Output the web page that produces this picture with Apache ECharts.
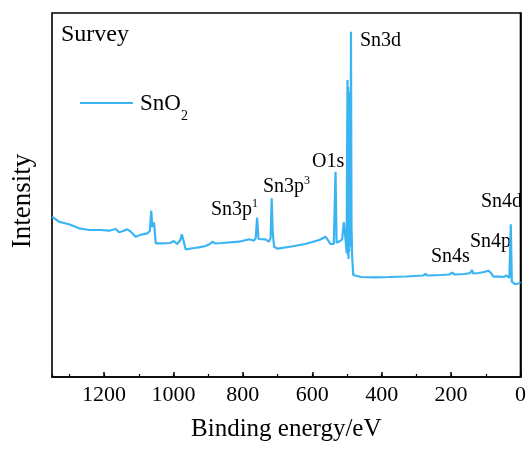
<!DOCTYPE html>
<html><head><meta charset="utf-8">
<script src="https://cdn.jsdelivr.net/npm/echarts@6/dist/echarts.min.js"></script>
<style>html,body{margin:0;padding:0;background:#fff}#c{width:529px;height:449px}</style>
</head><body><div id="c"></div>
<script>
// Binding energy (eV)
const energy = [1350,1330,1301,1272,1243,1210,1186,1166,1157,1145,1133,1123,1109,1090,1075,1068,1064,1061,1059,1056,1051,1032,1010,999,989,980,976,970,965,940,927,907,895,888,880,860,811,782,768,763,759,755,750,735,725,720,717,714,710,700,660,620,580,562,555,548,543,538,533,530,520,514,509,504,501,498.5,497.5,496.5,495.5,494.5,493.5,492.5,491.5,490.5,489.5,488.5,487,485,482,480,460,420,380,330,280,274,268,230,205,197,190,160,145,140,136,120,105,92,85,78,60,49,40,32,28,25,15,5,0];
// Intensity (a.u.)
const intensity = [160.3,155.3,152.7,148.7,147,147,146.3,148,144.7,146,147.7,145.3,140.3,142.7,143.7,146,166.3,150,148.7,154.7,133.7,133.7,134,136,133,137,142.7,135,127.7,129,129.7,131,133,135.3,133.5,134,135.3,137.7,136.3,139,159.3,138,136,137.7,135.3,139,178.7,145,130.3,128.3,130.5,133,137,140.3,137,133,132,133,205.3,134.3,136,137.7,155,137,124,297,122,290,118,285,125,280,130,275,140,345.3,150,120,102,100.3,100,99.7,100,100.5,101.5,103,101.5,102,102.5,104.3,102.5,103,104,107,103.5,104,105,106.3,104,100.3,100.5,100,101.5,99,152.7,95.3,92.7,93.5,95];
const xTicks = [0,200,400,600,800,1000,1200];
const peakLabels = ['Sn3d','O1s','Sn3p','Sn3p','Sn4d','Sn4p','Sn4s'];
const seriesName = 'SnO';

const data = energy.map((e,i)=>[e,intensity[i]]);
const F = '"Liberation Serif","Times New Roman",serif';
const C = '#3ab4f2';
const chart = echarts.init(document.getElementById('c'),null,{renderer:'canvas'});
const supRich = {n:{fontSize:20,fontFamily:F,lineHeight:22,verticalAlign:'bottom'},s:{fontSize:12,fontFamily:F,lineHeight:22,verticalAlign:'top'}};
chart.setOption({
  animation:false,
  grid:{left:52,right:7,top:13,bottom:72,show:true,borderColor:'#000',borderWidth:1.6,containLabel:false},
  xAxis:[{
    type:'value',inverse:true,min:0,max:1350,interval:200,
    name:'Binding energy/eV',nameLocation:'middle',nameGap:40,
    nameTextStyle:{fontFamily:F,fontSize:25,color:'#000'},
    axisLine:{show:true,lineStyle:{color:'#000',width:1.6}},
    axisTick:{show:true,inside:true,length:5,lineStyle:{color:'#000',width:1.5}},
    axisLabel:{show:true,fontFamily:F,fontSize:22,color:'#000',margin:7,showMaxLabel:false,
      formatter:v=>xTicks.includes(v)?String(v):''},
    splitLine:{show:false}
  },{
    type:'value',inverse:true,min:0,max:1350,interval:100,position:'bottom',
    axisLine:{show:false},
    axisTick:{show:true,inside:true,length:3,lineStyle:{color:'#000',width:1.2}},
    axisLabel:{show:false},splitLine:{show:false}
  }],
  yAxis:{
    type:'value',min:0,max:364,
    name:'Intensity',nameLocation:'middle',nameGap:16,nameRotate:90,
    nameTextStyle:{fontFamily:F,fontSize:27,color:'#000',padding:[0,12,0,0]},
    axisLine:{show:true,lineStyle:{color:'#000',width:1.6}},
    axisTick:{show:false},axisLabel:{show:false},splitLine:{show:false}
  },
  series:[{type:'line',name:seriesName,xAxisIndex:0,data:data,showSymbol:false,
    lineStyle:{color:C,width:2.2},itemStyle:{color:C}}],
  graphic:[
    {type:'text',left:61,top:23,style:{text:'Survey',font:'24px '+F,fill:'#000'}},
    {type:'line',shape:{x1:80,y1:103,x2:133,y2:103},style:{stroke:C,lineWidth:2.2}},
    {type:'text',left:140,top:92,style:{text:'{n|'+seriesName+'}{b|2}',rich:{n:{fontSize:23,fontFamily:F,color:C,lineHeight:24,verticalAlign:'top'},b:{fontSize:14,fontFamily:F,color:C,lineHeight:31,verticalAlign:'bottom'}}}},
    {type:'text',left:360,top:31,style:{text:peakLabels[0],font:'20px '+F,fill:'#000'}},
    {type:'text',left:312,top:152,style:{text:peakLabels[1],font:'20px '+F,fill:'#000'}},
    {type:'text',left:263,top:175,style:{text:'{n|'+peakLabels[3]+'}{s|3}',rich:supRich}},
    {type:'text',left:211,top:198,style:{text:'{n|'+peakLabels[2]+'}{s|1}',rich:supRich}},
    {type:'text',left:481,top:192,style:{text:peakLabels[4],font:'20px '+F,fill:'#000'}},
    {type:'text',left:470,top:232,style:{text:peakLabels[5],font:'20px '+F,fill:'#000'}},
    {type:'text',left:431,top:247,style:{text:peakLabels[6],font:'20px '+F,fill:'#000'}}
  ]
});
</script></body></html>
